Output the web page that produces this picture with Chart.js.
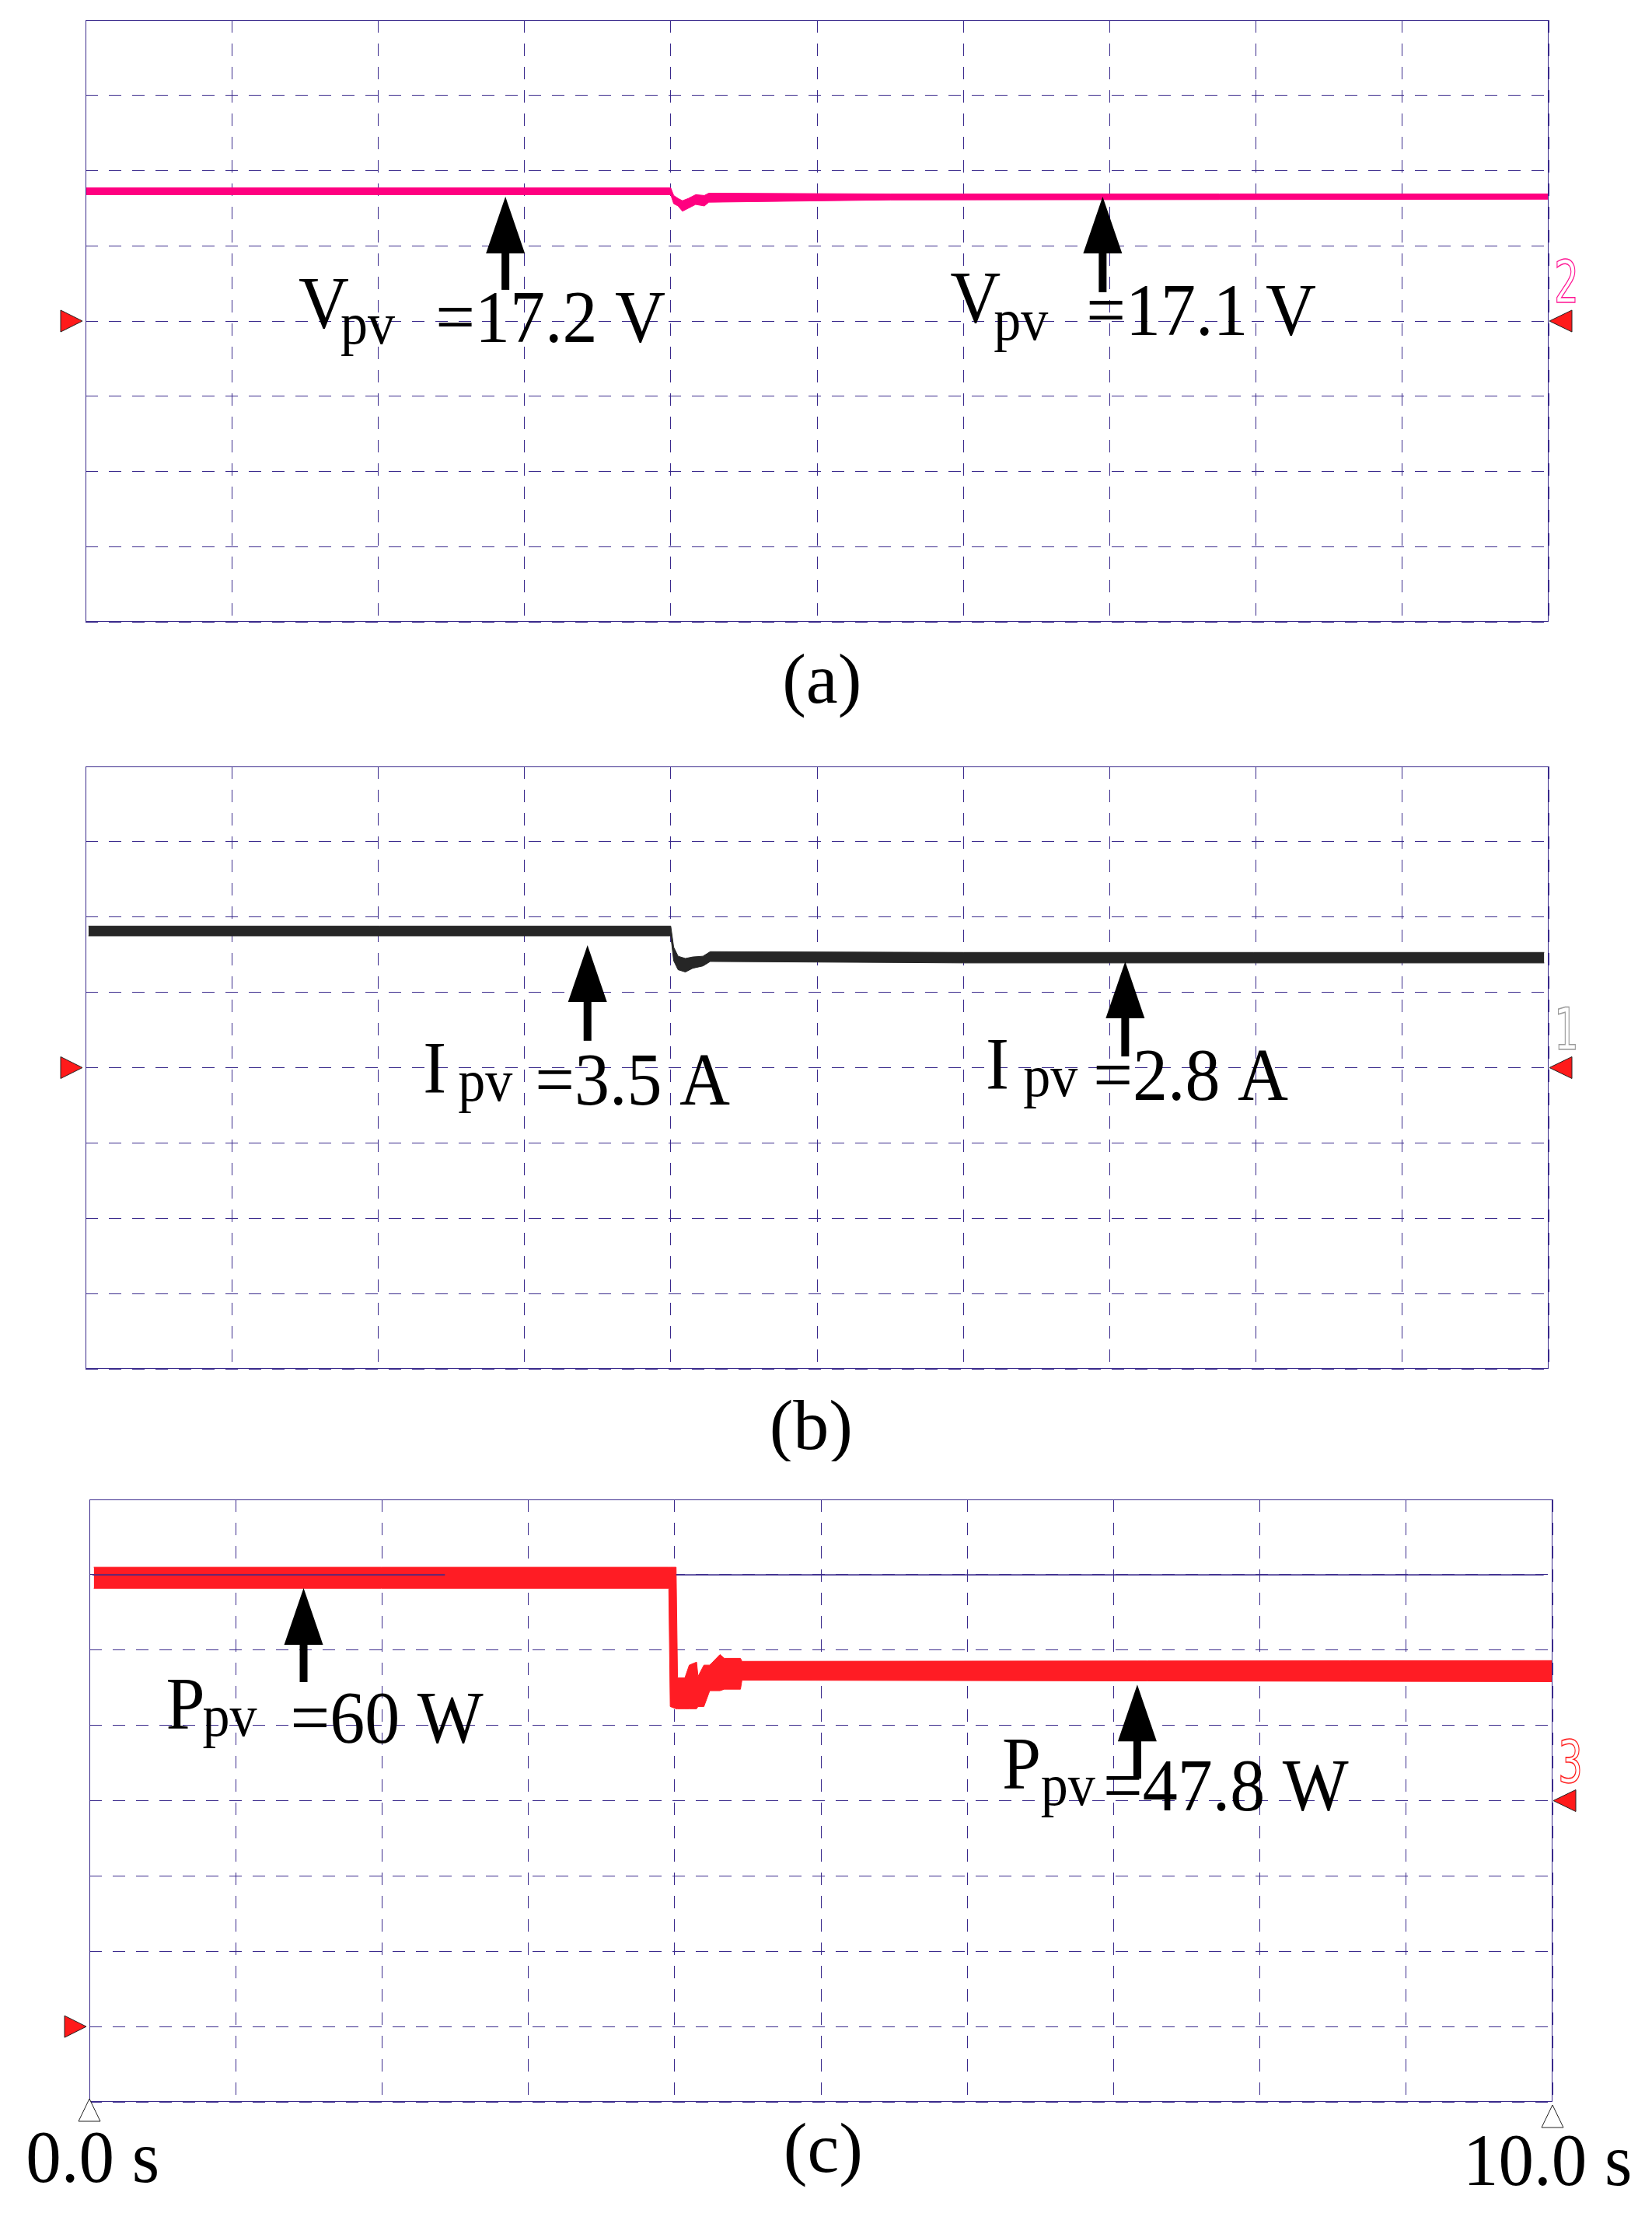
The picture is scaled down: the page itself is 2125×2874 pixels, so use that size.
<!DOCTYPE html>
<html>
<head>
<meta charset="utf-8">
<title>PV voltage, current and power</title>
<script src="https://cdn.jsdelivr.net/npm/chart.js@4.4.1/dist/chart.umd.min.js"></script>
<style>
    body { margin: 0; background: #fff; }
    #page { position: relative; width: 2125px; height: 2874px; }
    #page canvas { position: absolute; left: 0; }
</style>
</head>
<body>
<div id="page">
    <canvas id="chart-v" width="2125" height="940" style="top:0"></canvas>
    <canvas id="chart-i" width="2125" height="940" style="top:940px"></canvas>
    <canvas id="chart-p" width="2125" height="994" style="top:1880px"></canvas>
</div>
<script>
// Scope screen: 10 time divisions (1 s/div), 8 vertical divisions
const timeRange = [0, 10];
const divRange = [-4, 4];
const timeLabels = ['0.0 s', '10.0 s'];

// (a) PV voltage, band edges in divisions above the channel 2 marker
const vTime = [0, 4.0, 4.02, 4.05, 4.08, 4.12, 4.17, 4.23, 4.26, 5.5, 10];
const vHigh = [1.77, 1.77, 1.67, 1.63, 1.60, 1.63, 1.68, 1.67, 1.70, 1.69, 1.69];
const vLow = [1.68, 1.68, 1.56, 1.53, 1.46, 1.50, 1.55, 1.53, 1.58, 1.61, 1.62];

// (b) PV current, band edges in divisions above the channel 1 marker
const iTime = [0.02, 4.0, 4.02, 4.05, 4.1, 4.15, 4.22, 4.27, 6.0, 9.97];
const iHigh = [1.88, 1.88, 1.60, 1.48, 1.45, 1.47, 1.48, 1.54, 1.53, 1.53];
const iLow = [1.75, 1.75, 1.42, 1.30, 1.27, 1.32, 1.35, 1.41, 1.39, 1.39];

// (c) PV power, band edges in divisions from the screen centre
const pTime = [0.03, 3.96, 3.97, 4.01, 4.02, 4.07, 4.1, 4.15, 4.16, 4.2, 4.24, 4.31, 4.34, 4.45, 4.46, 10];
const pHigh = [3.10, 3.10, 3.10, 3.10, 1.63, 1.63, 1.80, 1.84, 1.65, 1.80, 1.80, 1.94, 1.89, 1.89, 1.85, 1.86];
const pLow = [2.82, 2.82, 1.25, 1.22, 1.22, 1.22, 1.22, 1.22, 1.25, 1.25, 1.46, 1.46, 1.48, 1.48, 1.60, 1.58];

// (c) reference level line (hidden behind the trace in the gap)
const refTime = [0.02, 2.43, 2.44, 4.01, 9.94];
const refLevel = [3.0, 3.0, null, 3.0, 3.0];

// Styles
const gridColor = '#3a2a8c';
const serif = "'Liberation Serif', 'Times New Roman', serif";

// Axis with dashed graticule, no tick labels
function axis(range) {
    return {
        type: 'linear',
        min: range[0],
        max: range[1],
        ticks: { display: false, stepSize: 1 },
        grid: { color: gridColor, lineWidth: 1, drawTicks: false },
        border: { display: false, dash: [16, 14] }
    };
}

// Trace drawn as a filled band between its upper and lower edge
function band(times, high, low, color) {
    const pts = arr => times.map((t, i) => ({ x: t, y: arr[i] }));
    return [
        { data: pts(high), borderColor: color, backgroundColor: color, borderWidth: 1, fill: '+1' },
        { data: pts(low), borderColor: color, borderWidth: 1, fill: false }
    ];
}

// Text at data position, with optional vertical stretch
function drawText(chart, str, t, v, size, stretch, align) {
    const { ctx, scales: { x, y } } = chart;
    ctx.save();
    ctx.translate(x.getPixelForValue(t), y.getPixelForValue(v));
    ctx.scale(1, stretch);
    ctx.font = `${size}px ${serif}`;
    ctx.textAlign = align || 'left';
    ctx.textBaseline = 'alphabetic';
    ctx.fillStyle = '#000';
    ctx.fillText(str, 0, 0);
    ctx.restore();
}

// Black arrow pointing up at the trace
function drawArrow(chart, t, v, len) {
    const { ctx, scales: { x, y } } = chart;
    const px = x.getPixelForValue(t);
    const py = y.getPixelForValue(v);
    ctx.save();
    ctx.fillStyle = '#000';
    ctx.beginPath();
    ctx.moveTo(px, py);
    ctx.lineTo(px + 25, py + 73);
    ctx.lineTo(px - 25, py + 73);
    ctx.closePath();
    ctx.fill();
    ctx.fillRect(px - 5, py + 60, 10, len - 60);
    ctx.restore();
}

// Red ground markers and channel number
function drawMarkers(chart, m) {
    const { ctx, chartArea: area, scales: { y } } = chart;
    const yl = y.getPixelForValue(m.left);
    const yr = y.getPixelForValue(m.right);
    ctx.save();
    ctx.fillStyle = '#ff1a1a';
    ctx.strokeStyle = '#222';
    ctx.lineWidth = 1;
    const lx = area.left - 4;
    ctx.beginPath();
    ctx.moveTo(lx, yl);
    ctx.lineTo(lx - 28, yl - 14);
    ctx.lineTo(lx - 28, yl + 14);
    ctx.closePath();
    ctx.fill();
    ctx.stroke();
    const rx = area.right + 1;
    ctx.beginPath();
    ctx.moveTo(rx, yr);
    ctx.lineTo(rx + 29, yr - 14);
    ctx.lineTo(rx + 29, yr + 14);
    ctx.closePath();
    ctx.fill();
    ctx.stroke();

    ctx.translate(area.right + 7, yr - 24);
    ctx.scale(0.68, 1);
    ctx.font = "74px 'DejaVu Sans'";
    ctx.strokeStyle = m.color;
    ctx.lineWidth = 1.6;
    ctx.strokeText(m.channel, 0, 0);
    ctx.restore();
}

// Per-chart decoration: frame, markers, arrows, labels, caption
function decor(cfg) {
    return {
        id: 'scopeDecor',
        afterDraw(chart) {
            const { ctx, chartArea: area, scales: { x, y } } = chart;
            ctx.save();
            ctx.strokeStyle = gridColor;
            ctx.lineWidth = 1;
            ctx.strokeRect(area.left + 0.5, area.top + 0.5, area.right - area.left - 1, area.bottom - area.top - 1);
            ctx.restore();

            drawMarkers(chart, cfg.markers);

            cfg.notes.forEach(n => {
                drawArrow(chart, n.arrow[0], n.arrow[1], n.arrow[2]);
                drawText(chart, n.sym[0], n.sym[1], n.sym[2], 90, 1.06);
                drawText(chart, 'pv', n.sub[0], n.sub[1], 70, 1.08);
                drawText(chart, n.value[0], n.value[1], n.value[2], 90, 1.06);
            });

            drawText(chart, cfg.caption[0], cfg.caption[1], cfg.caption[2], 92, 1, 'center');

            if (cfg.timeMarks) {
                cfg.timeMarks.forEach((m, i) => {
                    const px = x.getPixelForValue(m.t);
                    const top = area.bottom + m.apex;
                    ctx.save();
                    ctx.fillStyle = '#fff';
                    ctx.strokeStyle = '#222';
                    ctx.lineWidth = 1;
                    ctx.beginPath();
                    ctx.moveTo(px, top);
                    ctx.lineTo(px + 14, top + 29);
                    ctx.lineTo(px - 14, top + 29);
                    ctx.closePath();
                    ctx.fill();
                    ctx.stroke();
                    ctx.restore();
                    drawText(chart, timeLabels[i], m.labelT, m.labelV, 91, 1.04, 'center');
                });
            }
        }
    };
}

// Build one scope panel
function scopeChart(id, datasets, padding, cfg) {
    return new Chart(document.getElementById(id), {
        type: 'line',
        data: { datasets },
        options: {
            responsive: false,
            animation: false,
            devicePixelRatio: 1,
            layout: { padding },
            plugins: {
                legend: { display: false },
                tooltip: { enabled: false }
            },
            elements: { point: { radius: 0 }, line: { tension: 0 } },
            scales: { x: axis(timeRange), y: axis(divRange) }
        },
        plugins: [decor(cfg)]
    });
}

// (a) voltage
scopeChart('chart-v', band(vTime, vHigh, vLow, '#ff0080'),
    { left: 110, right: 133, top: 26, bottom: 140 },
    {
        markers: { left: 0, right: 0, channel: '2', color: '#ff1493' },
        notes: [
            { arrow: [2.87, 1.655, 120], sym: ['V', 1.456, -0.098], sub: [1.743, -0.30], value: ['=17.2 V', 2.392, -0.274] },
            { arrow: [6.952, 1.655, 123], sym: ['V', 5.91, -0.016], sub: [6.208, -0.248], value: ['=17.1 V', 6.84, -0.181] }
        ],
        caption: ['(a)', 5.033, -5.07]
    });

// (b) current
scopeChart('chart-i', band(iTime, iHigh, iLow, '#262626'),
    { left: 110, right: 133, top: 46, bottom: 119 },
    {
        markers: { left: 0, right: 0, channel: '1', color: '#9a9a9a' },
        notes: [
            { arrow: [3.431, 1.627, 123], sym: ['I', 2.307, -0.338], sub: [2.546, -0.436], value: ['=3.5 A', 3.072, -0.493] },
            { arrow: [7.106, 1.408, 122], sym: ['I', 6.153, -0.282], sub: [6.41, -0.374], value: ['=2.8 A', 6.888, -0.431] }
        ],
        caption: ['(b)', 4.959, -5.06]
    });

// (c) power, with its reference level line on top
const powerSets = band(pTime, pHigh, pLow, '#ff1c24');
powerSets.push({
    data: refTime.map((t, i) => ({ x: t, y: refLevel[i] })),
    borderColor: gridColor,
    borderWidth: 1.5,
    fill: false,
    spanGaps: false,
    order: -1
});

scopeChart('chart-p', powerSets,
    { left: 115, right: 128, top: 49, bottom: 170 },
    {
        markers: { left: -3, right: 0, channel: '3', color: '#ff2020' },
        notes: [
            { arrow: [1.464, 2.824, 121], sym: ['P', 0.523, 0.953], sub: [0.773, 0.865], value: ['=60 W', 1.373, 0.771] },
            { arrow: [7.162, 1.541, 121], sym: ['P', 6.238, 0.161], sub: [6.502, -0.055], value: ['=47.8 W', 6.929, -0.128] }
        ],
        caption: ['(c)', 5.015, -4.93],
        timeMarks: [
            { t: 0, apex: -4, labelT: 0.023, labelV: -5.06 },
            { t: 10, apex: 4, labelT: 9.967, labelV: -5.10 }
        ]
    });
</script>
</body>
</html>
